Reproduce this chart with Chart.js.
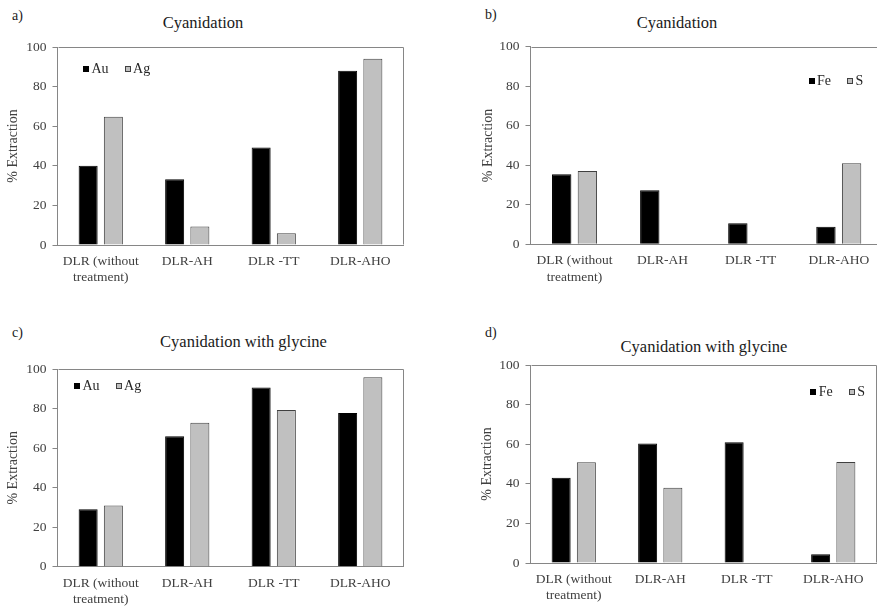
<!DOCTYPE html>
<html><head><meta charset="utf-8">
<script src="https://cdn.jsdelivr.net/npm/chart.js@4.4.1/dist/chart.umd.min.js"></script>
<style>
html,body{margin:0;padding:0;width:877px;height:608px;overflow:hidden;background:#fff;position:relative;}
canvas{position:absolute;}
.t{position:absolute;font-family:"Liberation Serif","Times New Roman",serif;color:#1a1a1a;white-space:nowrap;transform:translate(-50%,-50%);line-height:1;font-size:16.5px;}
.l{position:absolute;font-family:"Liberation Serif","Times New Roman",serif;color:#1a1a1a;font-size:14px;line-height:1;transform:translateY(-50%);}
</style></head><body>
<div class="l" style="left:12px;top:16px">a)</div>
<div class="l" style="left:485px;top:15px">b)</div>
<div class="l" style="left:12px;top:333px">c)</div>
<div class="l" style="left:485px;top:333px">d)</div>
<div class="t" style="left:203px;top:23px">Cyanidation</div>
<div class="t" style="left:677px;top:23px">Cyanidation</div>
<div class="t" style="left:243.5px;top:342px">Cyanidation with glycine</div>
<div class="t" style="left:704px;top:347px">Cyanidation with glycine</div>
<canvas id="ca" width="440" height="300" style="left:0;top:0"></canvas>
<canvas id="cb" width="445" height="300" style="left:440px;top:0"></canvas>
<canvas id="cc" width="440" height="308" style="left:0;top:300px"></canvas>
<canvas id="cd" width="437" height="308" style="left:440px;top:300px"></canvas>
<script>
// ---- data ----
const categories = [['DLR (without', 'treatment)'], 'DLR-AH', 'DLR -TT', 'DLR-AHO'];
const preciousNames = ['Au', 'Ag'];
const sulfideNames = ['Fe', 'S'];
const auCyanidation = [40, 33.2, 49.3, 88];
const agCyanidation = [64.8, 9.3, 5.9, 94.1];
const feCyanidation = [35.4, 27.3, 10.6, 8.9];
const sCyanidation = [37.1, 0, 0, 41];
const auGlycine = [29, 66, 90.7, 77.7];
const agGlycine = [30.9, 72.8, 79.3, 95.8];
const feGlycine = [43.1, 60.3, 61, 4.4];
const sGlycine = [50.9, 38, 0, 51];
const yTicks = [0, 20, 40, 60, 80, 100];
const yTitle = '% Extraction';

const FONT = '"Liberation Serif", "Times New Roman", serif';
const TICK_COLOR = '#404040';
const AXIS_COLOR = '#868686';

// legend drawn inside the plot area from the datasets' labels/colours
const insideLegend = {
  id: 'insideLegend',
  afterDatasetsDraw(chart, args, o) {
    const ctx = chart.ctx, a = chart.chartArea;
    ctx.save();
    ctx.font = '14px ' + FONT;
    ctx.textBaseline = 'middle';
    ctx.textAlign = 'left';
    const box = 6, gap = 2.5, itemGap = 16;
    const items = chart.data.datasets.map(d => ({
      text: d.label, fill: d.backgroundColor, stroke: d.borderColor, w: ctx.measureText(d.label).width
    }));
    const total = items.reduce((s, it) => s + box + gap + it.w, 0) + itemGap * (items.length - 1);
    let x = o.align === 'end' ? a.right - o.dx - total : a.left + o.dx;
    const y = a.top + o.dy;
    items.forEach(it => {
      const bx = Math.round(x), by = Math.round(y - box / 2);
      ctx.fillStyle = it.fill;
      ctx.fillRect(bx, by, box, box);
      ctx.strokeStyle = it.stroke;
      ctx.lineWidth = 1;
      ctx.strokeRect(bx + 0.5, by + 0.5, box - 1, box - 1);
      ctx.fillStyle = '#262626';
      ctx.fillText(it.text, x + box + gap, y + 0.5);
      x += box + gap + it.w + itemGap;
    });
    ctx.restore();
  }
};
const frame = {
  id: 'frame',
  afterDraw(chart) {
    const a = chart.chartArea, ctx = chart.ctx;
    ctx.save();
    ctx.strokeStyle = AXIS_COLOR;
    ctx.lineWidth = 1;
    const l = Math.round(a.left) + 0.5, t = Math.round(a.top) + 0.5;
    const r = Math.round(a.right) - 0.5, b = Math.round(a.bottom) - 0.5;
    ctx.beginPath();
    ctx.moveTo(l, t); ctx.lineTo(r, t); ctx.lineTo(r, b);
    ctx.stroke();
    ctx.restore();
  }
};

function makeChart(id, s1, s2, names, o) {
  const ds = (label, data, bg, bc) => ({
    label, data, backgroundColor: bg, borderColor: bc, borderWidth: 1,
    categoryPercentage: 0.583, barPercentage: 0.754
  });
  new Chart(document.getElementById(id), {
    type: 'bar',
    data: {
      labels: categories,
      datasets: [ds(names[0], s1, '#000000', '#000000'), ds(names[1], s2, '#c0c0c0', '#404040')]
    },
    options: {
      responsive: false, animation: false, devicePixelRatio: 1,
      layout: { padding: o.pad },
      plugins: {
        legend: { display: false },
        title: { display: false },
        tooltip: { enabled: false },
        insideLegend: { align: o.align, dx: o.dx, dy: o.dy }
      },
      scales: {
        x: {
          grid: { display: false, drawTicks: false },
          border: { color: AXIS_COLOR, width: 1 },
          ticks: { color: TICK_COLOR, font: { family: FONT, size: 13.5 }, padding: 8.5, maxRotation: 0, minRotation: 0, autoSkip: false },
          afterFit(s) { s.height = 40; }
        },
        y: {
          min: 0, max: 100,
          afterBuildTicks(s) { s.ticks = yTicks.map(v => ({ value: v })); },
          grid: { display: true, drawOnChartArea: false, drawTicks: true, tickLength: 5, color: AXIS_COLOR },
          border: { color: AXIS_COLOR, width: 1 },
          ticks: { color: TICK_COLOR, font: { family: FONT, size: 13.5 }, padding: 6 },
          title: { display: true, text: yTitle, color: TICK_COLOR, font: { family: FONT, size: 14 }, padding: { top: 5, bottom: 0 } },
          afterFit(s) { s.width = o.yw; }
        }
      }
    },
    plugins: [insideLegend, frame]
  });
}

makeChart('ca', auCyanidation, agCyanidation, preciousNames,
  { pad: { left: 0, right: 36.5, top: 47, bottom: 15 }, yw: 57.5, align: 'start', dx: 25.5, dy: 22 });
makeChart('cb', feCyanidation, sCyanidation, sulfideNames,
  { pad: { left: 35, right: 2.2, top: 46.7, bottom: 15.7 }, yw: 55.5, align: 'end', dx: 19.5, dy: 34.3 });
makeChart('cc', auGlycine, agGlycine, preciousNames,
  { pad: { left: 0, right: 36.5, top: 69, bottom: 1.3 }, yw: 57.5, align: 'start', dx: 16.5, dy: 17 });
makeChart('cd', feGlycine, sGlycine, sulfideNames,
  { pad: { left: 34, right: 0.5, top: 65, bottom: 5 }, yw: 56.5, align: 'end', dx: 11.5, dy: 27 });
</script>
</body></html>
